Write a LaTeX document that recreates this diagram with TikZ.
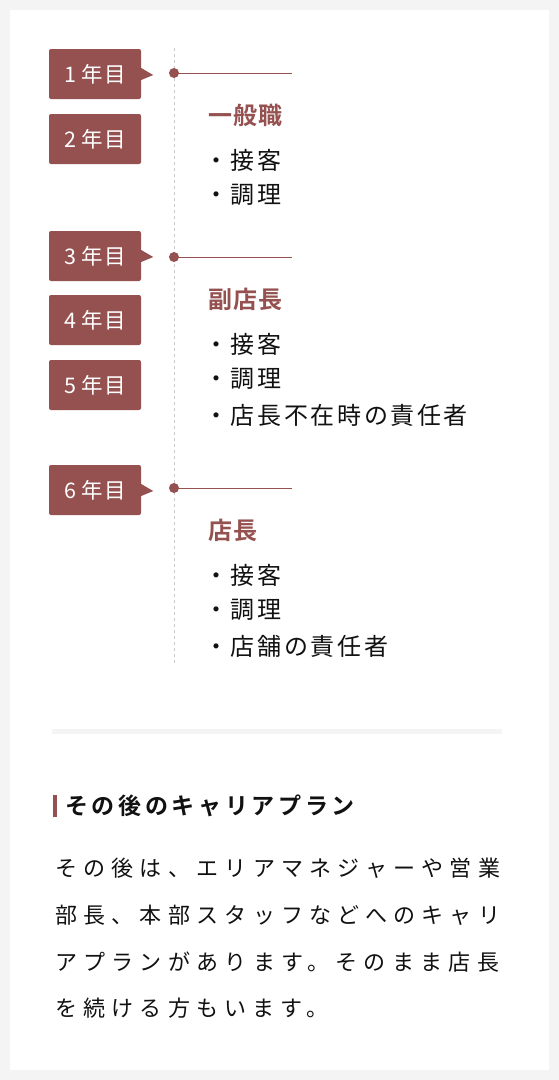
\documentclass[tikz,border=0pt]{standalone}
\usepackage{fontspec}
\newfontfamily\jpbox[LetterSpace=4]{Noto Sans CJK JP}
\newfontfamily\jpls[LetterSpace=11]{Noto Sans CJK JP}
\newfontfamily\jpp[LetterSpace=28.5]{Noto Sans CJK JP}
\newfontfamily\jpb[LetterSpace=4]{Noto Sans CJK JP Bold}
\newfontfamily\jph[LetterSpace=16]{Noto Sans CJK JP Bold}
\definecolor{brand}{HTML}{955050}
\definecolor{pagebg}{HTML}{F4F4F4}
\definecolor{dashgray}{HTML}{C8C8C8}
\definecolor{ink}{HTML}{111111}
\tikzset{
  yearbox/.style={fill=brand,rounded corners=2pt,minimum width=92pt,minimum height=50pt,inner sep=0pt,text=white,font=\jpbox\fontsize{21.5}{21.5}\selectfont},
  tdot/.style={circle,fill=brand,minimum size=10pt,inner sep=0pt},
  tline/.style={draw=brand,line width=0.9pt},
  ttitle/.style={anchor=west,inner sep=0pt,text=brand,font=\jpb\fontsize{24}{24}\selectfont},
  titem/.style={anchor=west,inner sep=0pt,text=ink,font=\jpls\fontsize{24}{24}\selectfont},
  para/.style={anchor=west,inner sep=0pt,text=ink,font=\jpp\fontsize{22}{22}\selectfont},
}
\begin{document}
\begin{tikzpicture}[x=1pt,y=-1pt]
\fill[pagebg] (0,0) rectangle (559,1080);
\fill[white] (10,10) rectangle (549,1070);
\useasboundingbox (0,0) rectangle (559,1080);
% dashed axis
\coordinate (axtop) at (174,48);
\coordinate (axbot) at (174,663);
\draw[dashgray,dashed,dash pattern=on 3pt off 3pt,line width=0.8pt] (axtop) -- (axbot);
% year boxes
\node[yearbox] (b1) at (95,74) {1 年目};
\node[yearbox] (b2) at (95,139) {2 年目};
\node[yearbox] (b3) at (95,256) {3 年目};
\node[yearbox] (b4) at (95,320) {4 年目};
\node[yearbox] (b5) at (95,385) {5 年目};
\node[yearbox] (b6) at (95,490) {6 年目};
% pointers
\foreach \b in {b1,b3,b6}{
  \fill[brand] ([yshift=6pt]\b.east) -- ([xshift=12pt,yshift=-1pt]\b.east) -- ([yshift=-6pt]\b.east) -- cycle;
}
% dots and lines
\node[tdot] (d1) at (174,73) {};
\node[tdot] (d2) at (174,257) {};
\node[tdot] (d3) at (174,488) {};
\coordinate (e1) at (292,73);
\coordinate (e2) at (292,257);
\coordinate (e3) at (292,488);
\draw[tline] (d1.center) -- (e1);
\draw[tline] (d2.center) -- (e2);
\draw[tline] (d3.center) -- (e3);
% stage 1
\node[ttitle] (t1) at (208,115) {一般職};
\node[titem] (i11) at (204,160) {・接客};
\node[titem] (i12) at (204,195) {・調理};
% stage 2
\node[ttitle] (t2) at (208,299) {副店長};
\node[titem] (i21) at (204,344) {・接客};
\node[titem] (i22) at (204,379) {・調理};
\node[titem] (i23) at (204,415) {・店長不在時の責任者};
% stage 3
\node[ttitle] (t3) at (208,530) {店長};
\node[titem] (i31) at (204,575) {・接客};
\node[titem] (i32) at (204,610) {・調理};
\node[titem] (i33) at (204,646) {・店舗の責任者};
% separator
\fill[pagebg] (52,729) rectangle (502,734);
% heading
\fill[brand] (53,795) rectangle (57,817);
\node[anchor=west,inner sep=0pt,text=ink,font=\jph\fontsize{23}{23}\selectfont] (h) at (65,806) {その後のキャリアプラン};
% paragraph
\node[para] (p1) at (55,868) {その後は、エリアマネジャーや営業};
\node[para] (p2) at (55,915) {部長、本部スタッフなどへのキャリ};
\node[para] (p3) at (55,962) {アプランがあります。そのまま店長};
\node[para] (p4) at (55,1008) {を続ける方もいます。};
\end{tikzpicture}
\end{document}
